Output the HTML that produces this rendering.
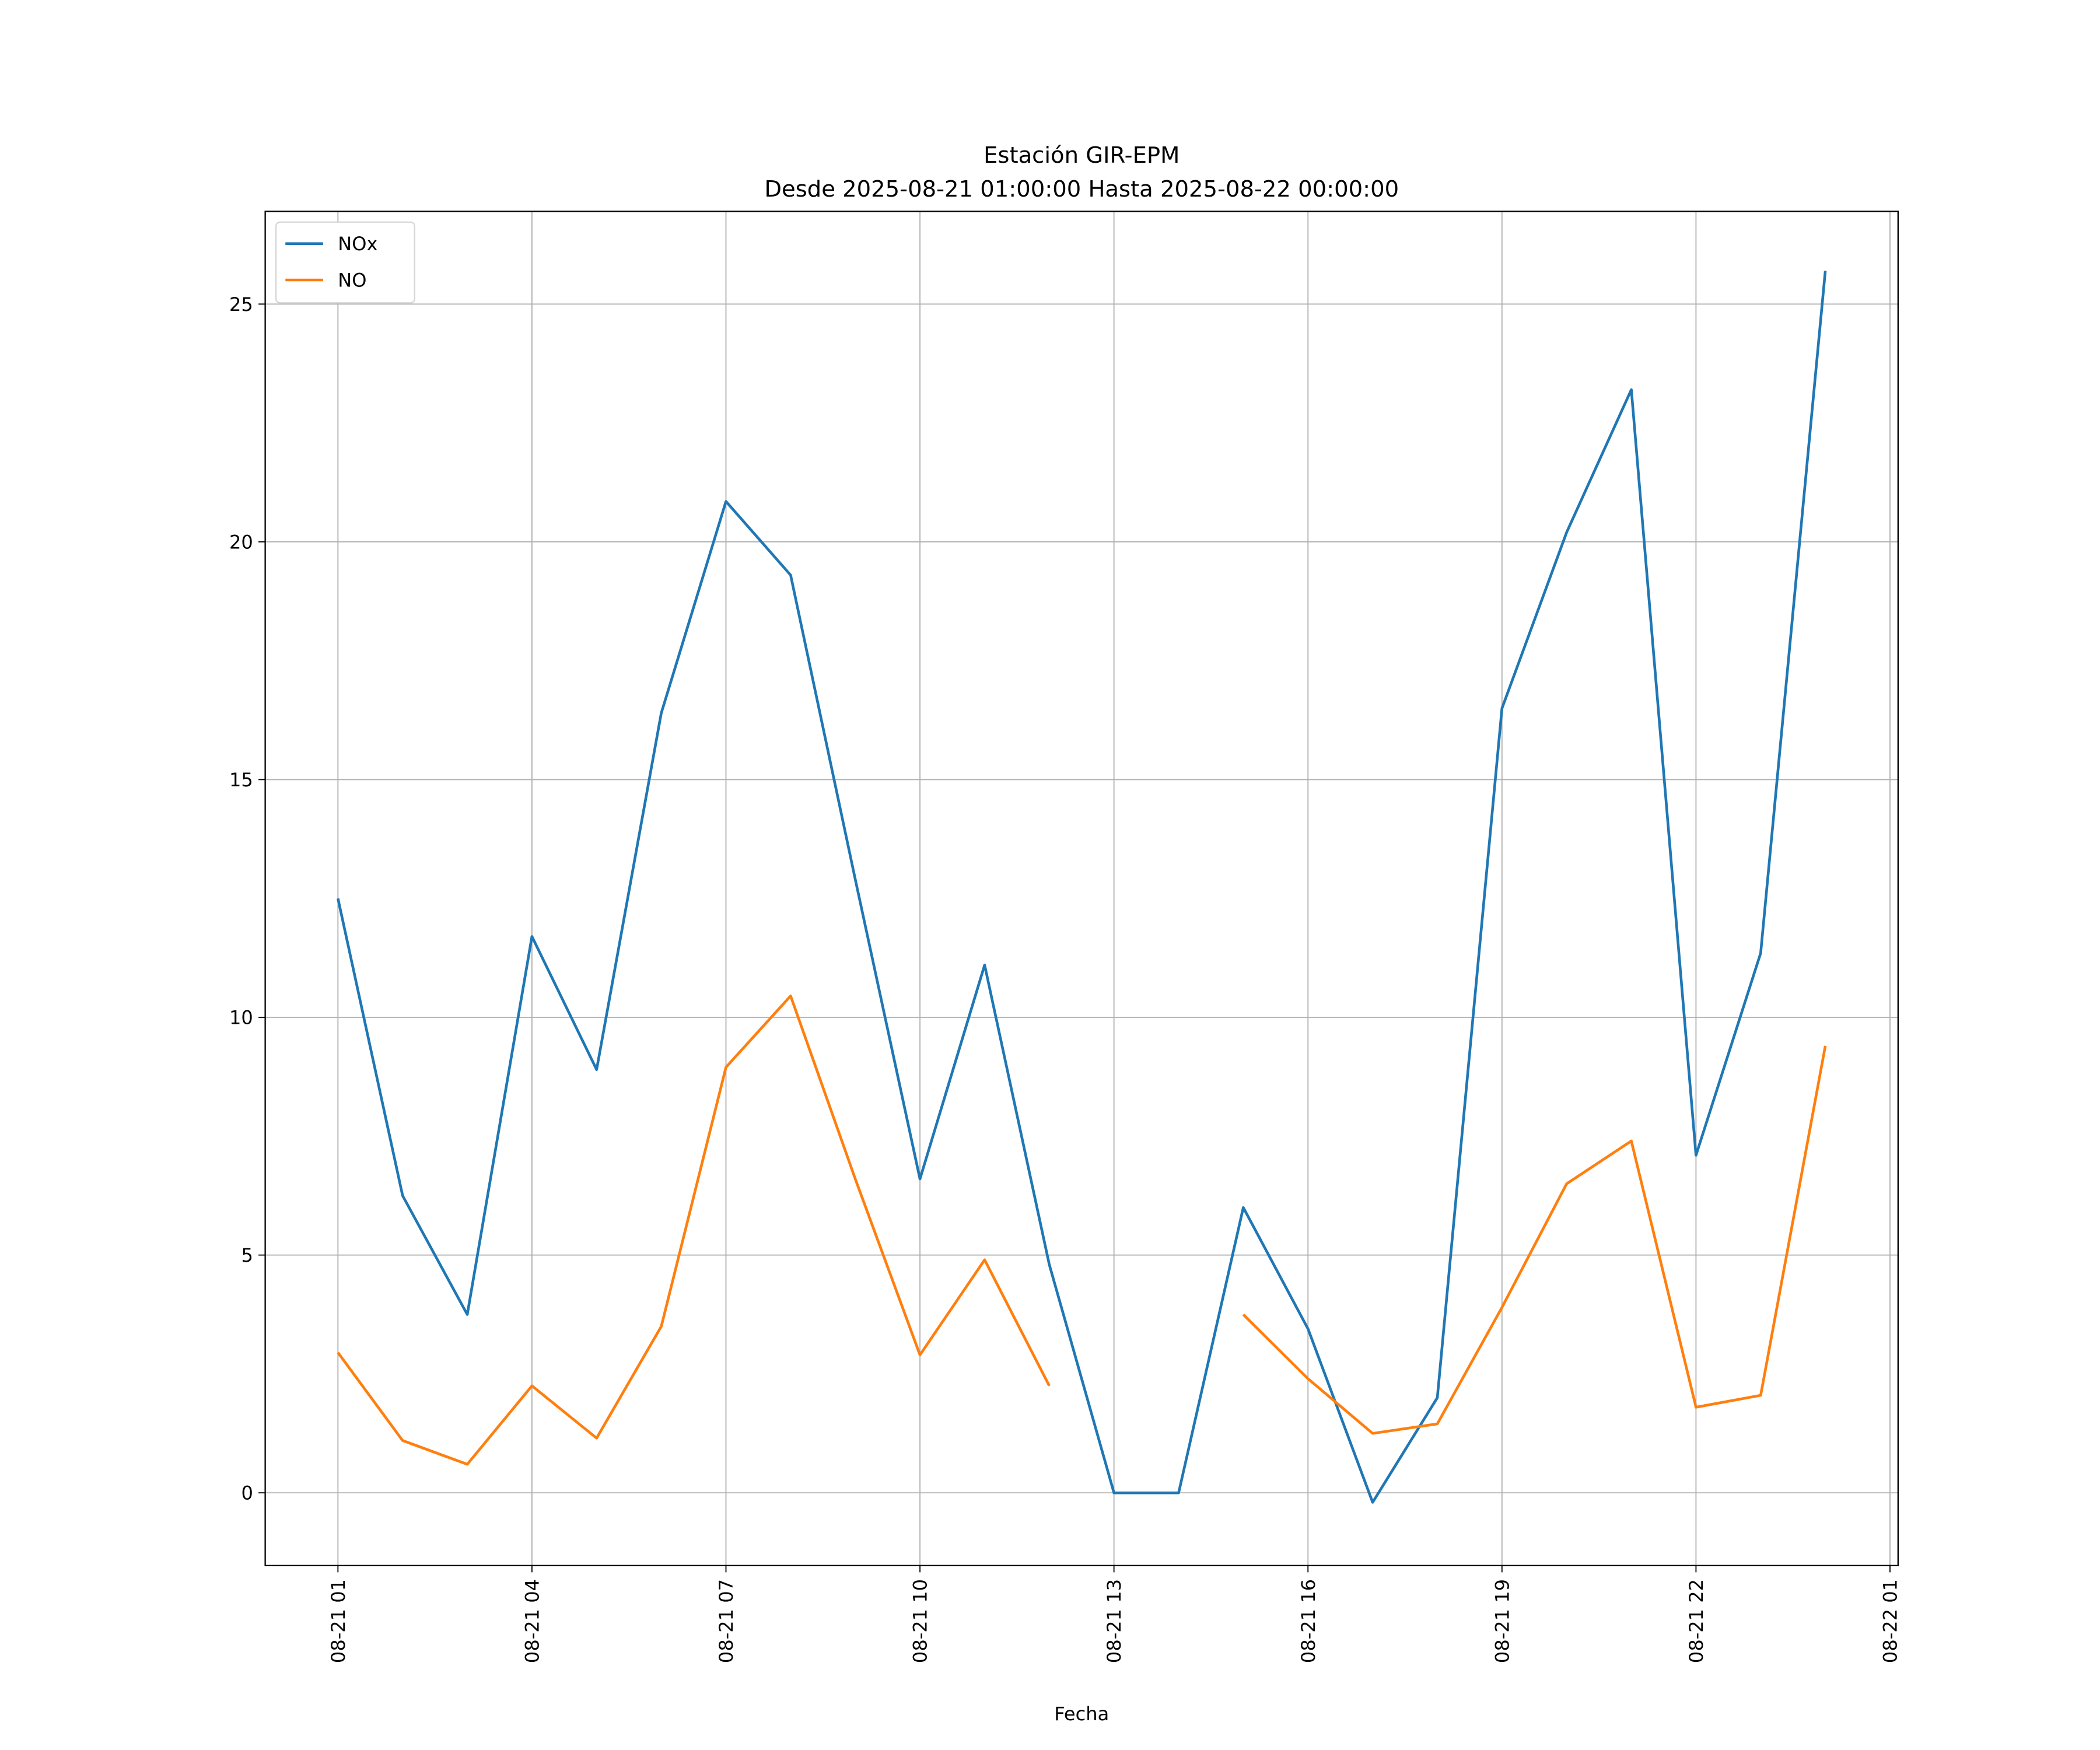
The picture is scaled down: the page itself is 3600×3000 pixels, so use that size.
<!DOCTYPE html>
<html><head><meta charset="utf-8"><style>
html,body{margin:0;padding:0;background:#fff;}
svg{display:block;}
text{font-family:"DejaVu Sans","Liberation Sans",sans-serif;fill:#000;}
</style></head><body>
<svg id="chart" width="3600" height="3000" viewBox="0 0 1560 1300" xmlns="http://www.w3.org/2000/svg">
<rect width="1560" height="1300" fill="#fff"/>
<g id="grid"></g>
<g id="series"></g>
<rect x="197" y="157" width="1213" height="1006" fill="none" stroke="#000" stroke-width="1"/>
<g id="ticks"></g>
<text x="803.5" y="121" text-anchor="middle" font-size="16.7">Estación GIR-EPM</text>
<text x="803.5" y="146" text-anchor="middle" font-size="16.7">Desde 2025-08-21 01:00:00 Hasta 2025-08-22 00:00:00</text>
<text x="803.5" y="1278" text-anchor="middle" font-size="13.9">Fecha</text>
<g>
<rect x="205" y="165" width="103" height="60" rx="3" fill="#fff" stroke="#ccc" stroke-opacity="0.8"/>
<line x1="212" y1="181" x2="240" y2="181" stroke="#1f77b4" stroke-width="2"/>
<text x="251" y="186" font-size="13.9">NOx</text>
<line x1="212" y1="208" x2="240" y2="208" stroke="#ff7f0e" stroke-width="2"/>
<text x="251" y="213" font-size="13.9">NO</text>
</g>
</svg>
<script>
const hours = [1,2,3,4,5,6,7,8,9,10,11,12,13,14,15,16,17,18,19,20,21,22,23,24];
const noxValues = [12.5,6.25,3.75,11.7,8.9,16.4,20.85,19.3,12.9,6.6,11.1,4.8,0,0,6.0,3.45,-0.2,2.0,16.5,20.2,23.2,7.1,11.35,25.7];
const noValues = [2.95,1.1,0.6,2.25,1.15,3.5,8.95,10.45,6.6,2.9,4.9,2.25,null,null,3.75,2.4,1.25,1.45,3.9,6.5,7.4,1.8,2.05,9.4];
const xTickHours = [1,4,7,10,13,16,19,22,25];
const xTickLabels = ["08-21 01","08-21 04","08-21 07","08-21 10","08-21 13","08-21 16","08-21 19","08-21 22","08-22 01"];
const yTicks = [0,5,10,15,20,25];

const NS="http://www.w3.org/2000/svg";
const X0=197,X1=1410,Y0=157,Y1=1163;
const xMin=-0.125, xMax=25.125, yMin=-1.53, yMax=26.95;
function xs(h){return X0+(h-xMin)/(xMax-xMin)*(X1-X0);}
function ys(v){return Y1-(v-yMin)/(yMax-yMin)*(Y1-Y0);}
function mk(tag,attrs,parent){const e=document.createElementNS(NS,tag);for(const k in attrs)e.setAttribute(k,attrs[k]);parent.appendChild(e);return e;}
const grid=document.getElementById('grid'),ticks=document.getElementById('ticks'),series=document.getElementById('series');
xTickHours.forEach((h,i)=>{
  const x=xs(h);
  const g=mk('line',{x1:x,y1:Y0,x2:x,y2:Y1,stroke:'#b0b0b0','stroke-width':0.8},grid);
  
  
  const t=mk('line',{x1:x,y1:Y1,x2:x,y2:Y1+5,stroke:'#000','stroke-width':0.8},ticks);
  
  
  const l=mk('text',{x:0,y:0,'font-size':13.9,'text-anchor':'end',transform:`translate(${x+5},${Y1+10}) rotate(-90)`},ticks);
  l.textContent=xTickLabels[i];
  
  
});
yTicks.forEach(v=>{
  const y=ys(v);
  const g=mk('line',{x1:X0,y1:y,x2:X1,y2:y,stroke:'#b0b0b0','stroke-width':0.8},grid);
  
  
  const t=mk('line',{x1:X0-5,y1:y,x2:X0,y2:y,stroke:'#000','stroke-width':0.8},ticks);
  
  
  const l=mk('text',{x:X0-9,y:y+5,'font-size':13.9,'text-anchor':'end'},ticks);
  l.textContent=String(v);
  
  
});
function drawSeries(vals,color,name){
  let d='',pen=false;
  vals.forEach((v,i)=>{
    if(v===null){pen=false;return;}
    d+=(pen?'L':'M')+xs(hours[i]).toFixed(2)+','+ys(v).toFixed(2);pen=true;
  });
  const p=mk('path',{d:d,fill:'none',stroke:color,'stroke-width':2,'stroke-linejoin':'round'},series);
  
  
}
drawSeries(noxValues,'#1f77b4','nox-line');
drawSeries(noValues,'#ff7f0e','no-line');
</script>
</body></html>
